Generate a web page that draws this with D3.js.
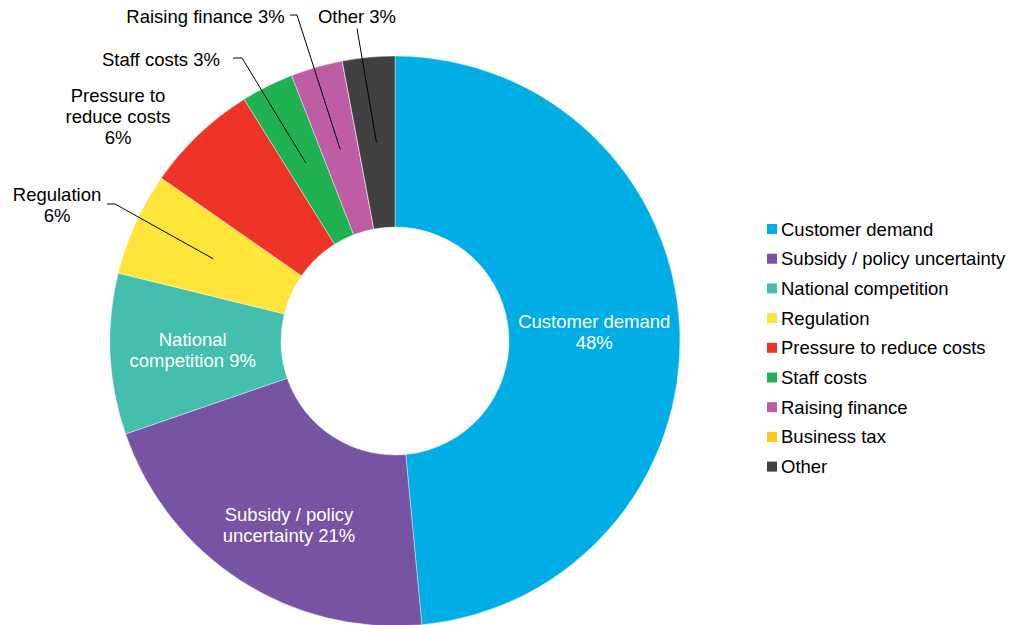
<!DOCTYPE html>
<html>
<head>
<meta charset="utf-8">
<script src="https://cdn.jsdelivr.net/npm/d3@7/dist/d3.min.js"></script>
<style>
  html, body { margin: 0; padding: 0; background: #ffffff; }
  svg { display: block; font-family: "Liberation Sans", Arial, sans-serif; }
</style>
</head>
<body>
<svg id="chart" width="1022" height="625"></svg>
<script>
// Share of responses by main business pressure (percent)
const categories = [
  "Customer demand",
  "Subsidy / policy uncertainty",
  "National competition",
  "Regulation",
  "Pressure to reduce costs",
  "Staff costs",
  "Raising finance",
  "Business tax",
  "Other"
];
const shares = [48.45, 21.19, 9.11, 5.86, 6.42, 2.97, 2.94, 0, 2.96];
const colors = ["#00aee5", "#7654a3", "#45bfad", "#ffe43a", "#ee3426", "#1fb152", "#be5ca5", "#ffc519", "#404040"];

// Label text lines per slice (percentage appended from the data)
const labelNames = [
  ["Customer demand"],
  ["Subsidy / policy", "uncertainty"],
  ["National", "competition"],
  ["Regulation"],
  ["Pressure to", "reduce costs"],
  ["Staff costs"],
  ["Raising finance"],
  null,
  ["Other"]
];

const W = 1022, H = 625;
const cx = 395, cy = 341;
const rOuter = 285, rInner = 114;
const fontSize = 18.5, lineH = 21, baseShift = 6.5;

const svg = d3.select("#chart");
const g = svg.append("g").attr("transform", `translate(${cx},${cy})`);

const data = categories.map((c, i) => ({ name: c, value: shares[i], color: colors[i], lines: labelNames[i] }));

const pie = d3.pie().value(d => d.value).sort(null);
const arcs = pie(data);
const arc = d3.arc().innerRadius(rInner).outerRadius(rOuter);

g.selectAll("path.slice")
  .data(arcs)
  .enter().append("path")
  .attr("class", "slice")
  .attr("d", arc)
  .attr("fill", d => d.data.color)
  .attr("stroke", "#ffffff")
  .attr("stroke-width", 0.4);

const total = d3.sum(shares);
const pct = v => Math.round(v / total * 100) + "%";

// Label placement: "in" = inside the ring at the slice centroid (with nudge),
// "out" = outside text block at a fixed anchor, optionally with a leader line.
const layout = [
  { mode: "in", dx: 0, dy: 0, split: "newline" },
  { mode: "in", dx: 2, dy: 16.5, split: "append" },
  { mode: "in", dx: -3, dy: 0, split: "append" },
  { mode: "out", x: 57, y: 204.7, split: "newline", leader: [[107, 204], [115, 204]] },
  { mode: "out", x: 118, y: 116.2, split: "newline" },
  { mode: "out", x: 161, y: 59.5, split: "append", leader: [[233, 58], [242, 58]] },
  { mode: "out", x: 205.5, y: 16.5, split: "append", leader: [[290, 15], [297, 15]] },
  null,
  { mode: "out", x: 357, y: 16.5, split: "append", leader: [[357, 28.5]] }
];

const labelLayer = svg.append("g");
const leaderLayer = svg.append("g");

arcs.forEach((a, i) => {
  const L = layout[i];
  const names = a.data.lines;
  if (!L || !names) return;
  const p = pct(a.data.value);
  let lines;
  if (L.split === "newline") lines = names.concat([p]);
  else lines = names.slice(0, -1).concat([names[names.length - 1] + " " + p]);

  const c = arc.centroid(a);
  let x, y, fill;
  if (L.mode === "in") {
    x = cx + c[0] + L.dx;
    y = cy + c[1] + L.dy;
    fill = "#ffffff";
  } else {
    x = L.x;
    y = L.y;
    fill = "#000000";
  }
  const t = labelLayer.append("text")
    .attr("text-anchor", "middle")
    .attr("font-size", fontSize)
    .attr("fill", fill);
  lines.forEach((ln, k) => {
    t.append("tspan")
      .attr("x", x)
      .attr("y", y - (lines.length - 1) * lineH / 2 + k * lineH + baseShift)
      .text(ln);
  });

  if (L.leader) {
    const pts = L.leader.concat([[cx + c[0], cy + c[1]]]);
    leaderLayer.append("path")
      .attr("d", d3.line()(pts))
      .attr("fill", "none")
      .attr("stroke", "#000000")
      .attr("stroke-width", 1);
  }
});

// Legend
const legend = svg.append("g").attr("transform", "translate(767,229)");
const rowH = 29.7;
const item = legend.selectAll("g.item")
  .data(data)
  .enter().append("g")
  .attr("class", "item")
  .attr("transform", (d, i) => `translate(0,${i * rowH})`);
item.append("rect")
  .attr("x", 0).attr("y", -5)
  .attr("width", 10).attr("height", 10)
  .attr("fill", d => d.color);
item.append("text")
  .attr("x", 14)
  .attr("y", baseShift)
  .attr("font-size", fontSize)
  .attr("fill", "#000000")
  .text(d => d.name);
</script>
</body>
</html>
